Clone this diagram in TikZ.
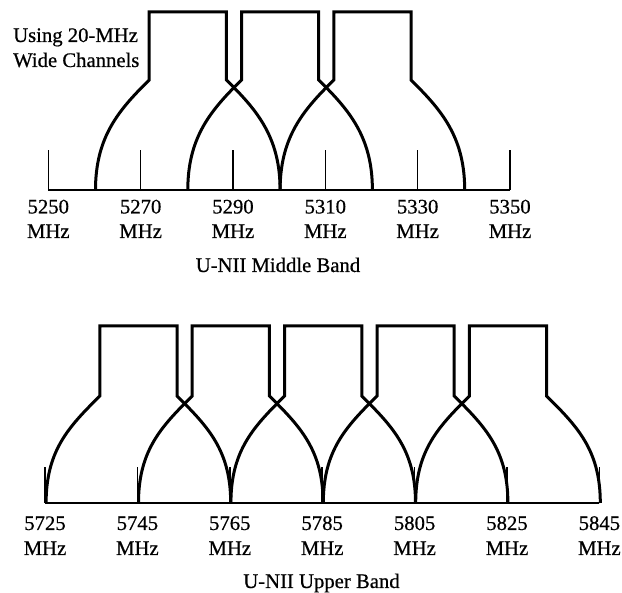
\documentclass[tikz,border=0pt]{standalone}
\usepackage{fontspec}
\setmainfont{Liberation Serif}
\newfontface\heavyserif{Liberation Serif}[FakeBold=0.6]
\newcommand\chanshape[4]{% #1 centre x, #2 top y, #3 box bottom y, #4 base y
  \draw[chan] ({#1-92.3},#4) .. controls ({#1-92.3},{#4-50}) and ({#1-71.6},{#3+33}) .. ({#1-43.6},{#3+5})
    -- ({#1-38.6},#3) -- ({#1-38.6},#2) -- ({#1+38.6},#2) -- ({#1+38.6},#3) -- ({#1+43.6},{#3+5})
    .. controls ({#1+71.6},{#3+33}) and ({#1+92.3},{#4-50}) .. ({#1+92.3},#4);}
\begin{document}
\begin{tikzpicture}[x=1pt,y=-1pt,
  chan/.style={line width=3pt, line join=miter},
  axis/.style={line width=1.6pt},
  lbl/.style={font=\fontsize{20.7}{24}\selectfont\heavyserif, inner sep=0pt, anchor=base}]
\useasboundingbox (0,0) rectangle (622,593);

% ---------- Middle band ----------
\node[lbl, anchor=base west] (using) at (13,42) {Using 20-MHz};
\node[lbl, anchor=base west] (wide) at (13,67) {Wide Channels};

\draw[axis] (48.3,190) -- (510,190);
\foreach \i in {0,...,5} {
  \draw[axis] ({48.3+92.34*\i},190) -- ++(0,-40);
}
\foreach \c in {187.8,280.1,372.4} {
  \chanshape{\c}{12}{80}{190}
}
\foreach \f [count=\i from 0] in {5250,5270,5290,5310,5330,5350} {
  \node[lbl] (m\f) at ({48.3+92.34*\i},213.5) {\f};
  \node[lbl] (mh\f) at ({48.3+92.34*\i},238) {MHz};
}
\node[lbl] (midband) at (278,272) {U-NII Middle Band};

% ---------- Upper band ----------
\draw[axis] (45,503) -- (599.4,503);
\foreach \i in {0,...,6} {
  \draw[axis] ({45+92.4*\i},503) -- ++(0,-36);
}
\foreach \c in {138.4,230.8,323.2,415.6,508.0} {
  \chanshape{\c}{326}{396}{503}
}
\foreach \f [count=\i from 0] in {5725,5745,5765,5785,5805,5825,5845} {
  \node[lbl] (u\f) at ({45+92.4*\i},530) {\f};
  \node[lbl] (uh\f) at ({45+92.4*\i},555) {MHz};
}
\node[lbl] (upband) at (321.5,588) {U-NII Upper Band};
\end{tikzpicture}
\end{document}
